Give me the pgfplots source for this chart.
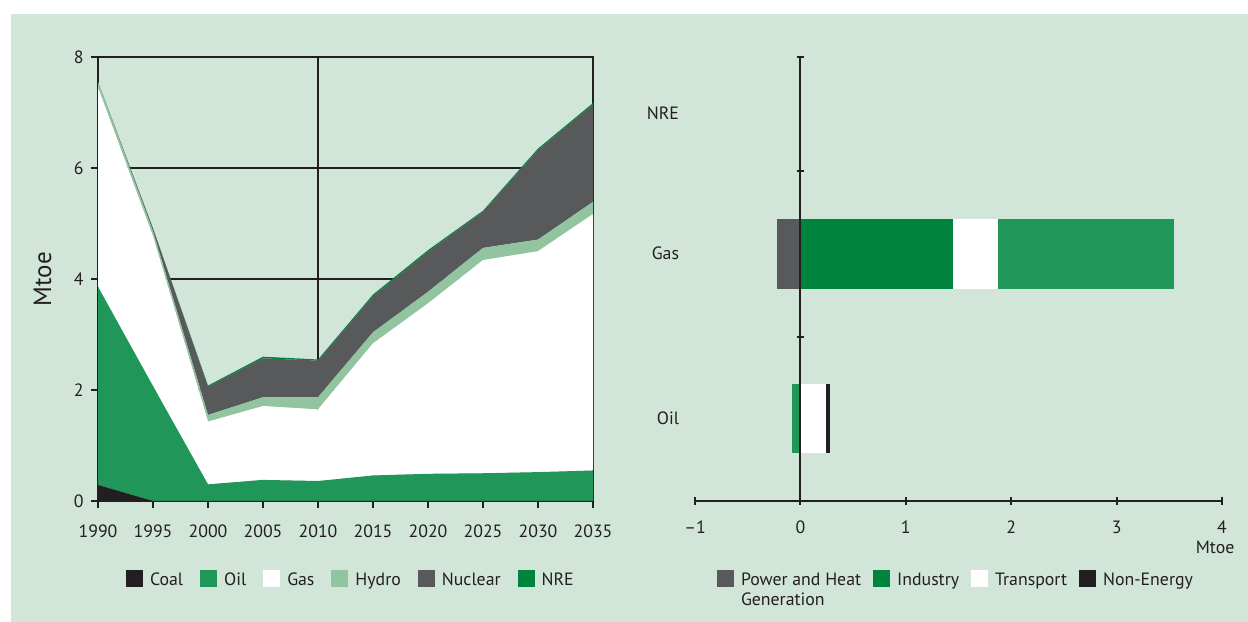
\documentclass[border=0pt]{standalone}
\usepackage{fontspec}
\setmainfont{PT Sans}
\usepackage{pgfplots}
\usepackage{pgfplotstable}
\pgfplotsset{compat=1.18}
\definecolor{bg}{RGB}{209,229,216}
\definecolor{coal}{RGB}{35,31,32}
\definecolor{oil}{RGB}{32,150,89}
\definecolor{hydro}{RGB}{147,196,160}
\definecolor{nuclear}{RGB}{88,89,91}
\definecolor{nre}{RGB}{0,132,61}
\definecolor{txt}{RGB}{35,31,32}

\pgfplotstableread{
year coal oil  gas  hydro nuclear nre
1990 0.29 3.57 3.59 0.10  0.00    0.00
1995 0.00 2.07 2.70 0.09  0.05    0.00
2000 0.00 0.30 1.13 0.12  0.51    0.02
2005 0.00 0.38 1.33 0.16  0.70    0.03
2010 0.00 0.36 1.29 0.22  0.66    0.02
2015 0.00 0.46 2.38 0.20  0.65    0.03
2020 0.00 0.49 3.07 0.21  0.72    0.03
2025 0.00 0.50 3.84 0.22  0.65    0.02
2030 0.00 0.52 3.98 0.21  1.61    0.03
2035 0.00 0.55 4.62 0.22  1.75    0.03
}\energy

\pgfplotsset{
  sqlegend/.style={legend image code/.code={\fill[#1] (0bp,-4.25bp) rectangle (8.5bp,4.25bp);}},
  base/.style={
    scale only axis, height=222bp,
    axis line style={line width=1bp, draw=txt},
    every tick/.style={line width=1bp, draw=txt},
    major tick length=3.75bp, tick align=outside,
    /pgf/number format/assume math mode=true,
    ticklabel style={text=txt},
    legend style={draw=none, fill=none, inner sep=0pt, outer sep=0pt,
      nodes={inner sep=0pt, text height=9bp, text depth=1.5bp, text=txt},
      /tikz/every odd column/.append style={column sep=3.5bp}},
    legend columns=-1,
    every axis plot post/.append style={sqlegend},
  }
}

\begin{document}
\begin{tikzpicture}[x=0.5bp,y=0.5bp,font=\fontsize{8.9bp}{10bp}\selectfont]
\path[use as bounding box] (0,0) rectangle (1248,622);
\fill[white] (0,0) rectangle (1248,622);
\fill[bg] (11,0) rectangle (1248,608);

\begin{axis}[base,
  at={(49bp,60.5bp)}, anchor=south west, width=247.5bp,
  xmin=1990, xmax=2035, ymin=0, ymax=8,
  xtick={1990,1995,...,2035}, ytick={0,2,...,8},
  xtick pos=bottom, ytick pos=left,
  ymajorgrids, grid style={line width=1bp, draw=txt},
  axis on top=false,
  x tick label style={/pgf/number format/1000 sep={}, yshift=-4.5bp},
  ylabel={Mtoe},
  y label style={at={(axis description cs:-0.112,0.5)}, anchor=center, text=txt, font=\fontsize{12.5bp}{13bp}\selectfont},
  stack plots=y,
  legend style={at={(0.0566,-0.1745)}, anchor=west,
    /tikz/every even column/.append style={column sep=8.5bp}},
]
\addplot[fill=coal, draw=none] table[x=year, y=coal] {\energy} \closedcycle;
\addplot[fill=oil, draw=none] table[x=year, y=oil] {\energy} \closedcycle;
\addplot[fill=white, draw=none] table[x=year, y=gas] {\energy} \closedcycle;
\addplot[fill=hydro, draw=none] table[x=year, y=hydro] {\energy} \closedcycle;
\addplot[fill=nuclear, draw=none] table[x=year, y=nuclear] {\energy} \closedcycle;
\addplot[fill=nre, draw=none] table[x=year, y=nre] {\energy} \closedcycle;
\legend{Coal, Oil, Gas, Hydro, Nuclear, NRE}
\draw[txt, line width=1bp] (axis cs:2010,0) -- (axis cs:2010,8);
\draw[txt, line width=1bp] (rel axis cs:0,0) rectangle (rel axis cs:1,1);
\end{axis}

\begin{axis}[base,
  at={(347.5bp,60.5bp)}, anchor=south west, width=263.5bp,
  xmin=-1, xmax=4, ymin=0, ymax=8,
  axis on top,
  axis lines=middle, axis line style={-},
  hide obscured x ticks=false, hide obscured y ticks=false,
  xtick={-1,0,...,4}, xticklabels={\textendash1,0,1,2,3,4},
  x tick label style={yshift=-4.5bp},
  ytick={2.955,5.95,8}, yticklabels={},
  clip=false,
  legend style={at={(0.0417,-0.1745)}, anchor=west,
    /tikz/every even column/.append style={column sep=6bp}},
]
% Gas bar
\addplot[fill=nuclear, draw=none, forget plot] coordinates {(-0.22,3.815) (0,3.815) (0,5.075) (-0.22,5.075)} -- cycle;
\addplot[fill=nre, draw=none, forget plot] coordinates {(0,3.815) (1.45,3.815) (1.45,5.075) (0,5.075)} -- cycle;
\addplot[fill=white, draw=none, forget plot] coordinates {(1.45,3.815) (1.87,3.815) (1.87,5.075) (1.45,5.075)} -- cycle;
\addplot[fill=oil, draw=none, forget plot] coordinates {(1.87,3.815) (3.54,3.815) (3.54,5.075) (1.87,5.075)} -- cycle;
% Oil bar
\addplot[fill=oil, draw=none, forget plot] coordinates {(-0.08,0.87) (0,0.87) (0,2.11) (-0.08,2.11)} -- cycle;
\addplot[fill=white, draw=none, forget plot] coordinates {(0,0.87) (0.24,0.87) (0.24,2.11) (0,2.11)} -- cycle;
\addplot[fill=coal, draw=none, forget plot] coordinates {(0.24,0.87) (0.28,0.87) (0.28,2.11) (0.24,2.11)} -- cycle;
\addlegendimage{fill=nuclear, draw=none, sqlegend}
\addlegendentry{\begin{tabular}[t]{@{}l@{}}Power and Heat\\Generation\end{tabular}}
\addlegendimage{fill=nre, draw=none, sqlegend}
\addlegendentry{Industry}
\addlegendimage{fill=white, draw=none, sqlegend}
\addlegendentry{Transport}
\addlegendimage{fill=coal, draw=none, sqlegend}
\addlegendentry{Non-Energy}
\node[anchor=east, text=txt] at (axis cs:-1.085,6.99) {NRE};
\node[anchor=east, text=txt] at (axis cs:-1.085,4.47) {Gas};
\node[anchor=east, text=txt] at (axis cs:-1.085,1.49) {Oil};
\node[anchor=base, text=txt] at ([yshift=-26.5bp]axis cs:3.934,0) {Mtoe};
\end{axis}
\end{tikzpicture}
\end{document}
